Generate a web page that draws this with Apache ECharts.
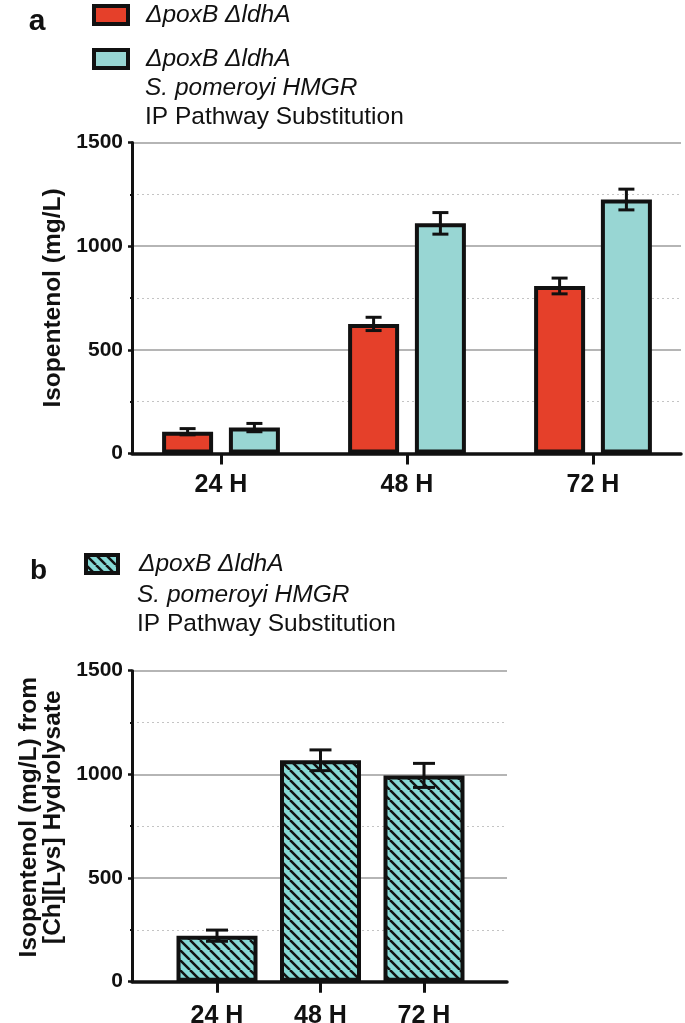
<!DOCTYPE html>
<html>
<head>
<meta charset="utf-8">
<script src="https://cdn.jsdelivr.net/npm/echarts@6/dist/echarts.min.js"></script>
<style>
html,body{margin:0;padding:0;background:#fff;}
#c{width:685px;height:1023px;}
</style>
</head>
<body>
<div id="c"></div>
<script>
// ---------- data ----------
const categories = ['24 H', '48 H', '72 H'];
const yTicks = [0, 500, 1000, 1500];

const redValues = [105, 625, 808];
const redErrors = [15, 32, 38];
const cyanValues = [125, 1110, 1225];
const cyanErrors = [20, 52, 50];
const hatchValues = [222, 1068, 995];
const hatchErrors = [27, 50, 58];

const legendLines = ['ΔpoxB ΔldhA', 'S. pomeroyi HMGR', 'IP Pathway Substitution'];
const yTitleA = 'Isopentenol (mg/L)';
const yTitleB = 'Isopentenol (mg/L) from\n[Ch][Lys] Hydrolysate';
const panelLabels = ['a', 'b'];

// ---------- styling ----------
const FONT = '"Liberation Sans", Arial, Helvetica, sans-serif';
const INK = '#111';
const RED = '#e5402a';
const CYAN = '#98d6d3';
const HATCH_CYAN = '#86d9d5';

const nameRed = 'ΔpoxB ΔldhA';
const nameCyan = 'ΔpoxB ΔldhA S. pomeroyi HMGR IP Pathway Substitution (a)';
const nameHatch = 'ΔpoxB ΔldhA S. pomeroyi HMGR IP Pathway Substitution (b)';

const barWA = 51, gapFracA = 0.31, capA = 16;
const barWB = 81, capB = 22;

function makeHatch() {
  const s = 10;
  const c = document.createElement('canvas');
  c.width = s; c.height = s;
  const g = c.getContext('2d');
  g.fillStyle = HATCH_CYAN;
  g.fillRect(0, 0, s, s);
  g.strokeStyle = INK;
  g.lineWidth = 2.5;
  for (const o of [-s, 0, s]) {
    g.beginPath(); g.moveTo(o, 0); g.lineTo(o + s, s); g.stroke();
  }
  return c;
}

function errorRenderer(barW, gapPx, capW, nSeries) {
  return function (params, api) {
    const idx = api.value(0), v = api.value(1), e = api.value(2), s = api.value(3);
    const base = api.coord([idx, v]);
    const off = nSeries === 2 ? (s === 0 ? -1 : 1) * (barW + gapPx) / 2 : 0;
    const x = base[0] + off;
    const yHi = api.coord([idx, v + e])[1];
    const yLo = api.coord([idx, v - e])[1];
    const st = { stroke: INK, lineWidth: 3 };
    return {
      type: 'group',
      children: [
        { type: 'line', shape: { x1: x, y1: yHi, x2: x, y2: yLo }, style: st },
        { type: 'line', shape: { x1: x - capW / 2, y1: yHi, x2: x + capW / 2, y2: yHi }, style: st },
        { type: 'line', shape: { x1: x - capW / 2, y1: yLo, x2: x + capW / 2, y2: yLo }, style: st }
      ]
    };
  };
}

const yMin = yTicks[0], yMax = yTicks[yTicks.length - 1], yInt = yTicks[1] - yTicks[0];

function frameX(gi) {
  return {
    gridIndex: gi, type: 'value', min: 0, max: 1,
    axisLine: { show: true, lineStyle: { color: INK, width: 3.5 } },
    axisTick: { show: false }, axisLabel: { show: false }, splitLine: { show: false }
  };
}
function barX(gi, margin) {
  return {
    gridIndex: gi, type: 'category', data: categories,
    axisLine: { show: false },
    axisTick: { show: true, alignWithLabel: true, length: 11, lineStyle: { color: INK, width: 3 } },
    axisLabel: { margin: margin, color: INK, fontFamily: FONT, fontWeight: 'bold', fontSize: 25 }
  };
}
function frameY(gi, name, nameGap, namePad) {
  return {
    gridIndex: gi, type: 'value', min: yMin, max: yMax, interval: yInt,
    axisLine: { show: true, lineStyle: { color: INK, width: 3 } },
    axisTick: { show: true, length: 4, lineStyle: { color: INK, width: 2.5 } },
    minorTick: { show: true, splitNumber: 2, length: 2, lineStyle: { color: INK, width: 2 } },
    axisLabel: {
      margin: 9, color: INK, fontFamily: FONT, fontWeight: 'bold', fontSize: 21,
      formatter: function (v) { return String(v); }
    },
    splitLine: { show: true, lineStyle: { color: '#9c9c9c', width: 1.5 } },
    minorSplitLine: { show: true, lineStyle: { color: '#c4c4c4', width: 1, type: [2, 3] } },
    name: name, nameLocation: 'middle', nameGap: nameGap, nameRotate: 90,
    nameTextStyle: { color: INK, fontFamily: FONT, fontWeight: 'bold', fontSize: 24.5, lineHeight: 24, padding: namePad }
  };
}
function hiddenY(gi) {
  return { gridIndex: gi, type: 'value', min: yMin, max: yMax, show: false };
}

function legendOf(name, left, top, iw, ih, textPad) {
  return {
    data: [name], left: left, top: top, padding: 0, orient: 'vertical',
    itemWidth: iw, itemHeight: ih, selectedMode: false, icon: 'rect',
    itemStyle: { borderColor: INK, borderWidth: 4 },
    formatter: function () { return legendLines[0]; },
    textStyle: { color: INK, fontFamily: FONT, fontStyle: 'italic', fontSize: 24.5, lineHeight: 26, padding: [0, 0, 0, textPad] }
  };
}

function gText(x, y, text, opts) {
  return {
    type: 'text', x: x, y: y, silent: true,
    style: Object.assign({
      text: text, fill: INK, fontFamily: FONT, fontSize: 24.5,
      align: 'left', verticalAlign: 'middle'
    }, opts || {})
  };
}

const chart = echarts.init(document.getElementById('c'), null, { renderer: 'canvas' });

const option = {
  backgroundColor: '#fff',
  animation: false,
  grid: [
    { left: 132, top: 142.5, width: 549, height: 311, outerBoundsMode: 'none', containLabel: false },
    { left: 128, top: 142.5, width: 558, height: 311, outerBoundsMode: 'none', containLabel: false },
    { left: 132, top: 670.7, width: 375, height: 311, outerBoundsMode: 'none', containLabel: false },
    { left: 165.25, top: 670.7, width: 310.5, height: 311, outerBoundsMode: 'none', containLabel: false }
  ],
  xAxis: [frameX(0), barX(1, 19), frameX(2), barX(3, 22)],
  yAxis: [
    frameY(0, yTitleA, 66, 0),
    hiddenY(1),
    frameY(2, yTitleB, 54, [0, 0, 0, 18]),
    hiddenY(3)
  ],
  legend: [
    legendOf(nameRed, 92, 2, 34, 18, 13),
    legendOf(nameCyan, 92, 46, 34, 18, 13),
    legendOf(nameHatch, 84, 551, 32, 18, 16)
  ],
  graphic: [
    gText(37, 22, panelLabels[0], { fontWeight: 'bold', fontSize: 30, align: 'center' }),
    gText(38.5, 571, panelLabels[1], { fontWeight: 'bold', fontSize: 28, align: 'center' }),
    gText(145, 88, legendLines[1], { fontStyle: 'italic' }),
    gText(145, 117.5, legendLines[2]),
    gText(137, 595, legendLines[1], { fontStyle: 'italic' }),
    gText(137, 624, legendLines[2])
  ],
  series: [
    {
      name: nameRed, type: 'bar', xAxisIndex: 1, yAxisIndex: 1, data: redValues,
      barWidth: barWA, barGap: (gapFracA * 100) + '%', z: 3,
      itemStyle: { color: RED, borderColor: INK, borderWidth: 4 }
    },
    {
      name: nameCyan, type: 'bar', xAxisIndex: 1, yAxisIndex: 1, data: cyanValues,
      barWidth: barWA, barGap: (gapFracA * 100) + '%', z: 3,
      itemStyle: { color: CYAN, borderColor: INK, borderWidth: 4 }
    },
    {
      type: 'custom', xAxisIndex: 1, yAxisIndex: 1, z: 5, clip: false,
      renderItem: errorRenderer(barWA, barWA * gapFracA, capA, 2),
      encode: { x: 0, y: 1 },
      data: categories.map((c, i) => [i, redValues[i], redErrors[i], 0])
        .concat(categories.map((c, i) => [i, cyanValues[i], cyanErrors[i], 1]))
    },
    {
      name: nameHatch, type: 'bar', xAxisIndex: 3, yAxisIndex: 3, data: hatchValues,
      barWidth: barWB, z: 3,
      itemStyle: { color: { image: makeHatch(), repeat: 'repeat' }, borderColor: INK, borderWidth: 4 }
    },
    {
      type: 'custom', xAxisIndex: 3, yAxisIndex: 3, z: 5, clip: false,
      renderItem: errorRenderer(barWB, 0, capB, 1),
      encode: { x: 0, y: 1 },
      data: categories.map((c, i) => [i, hatchValues[i], hatchErrors[i], 0])
    }
  ]
};
chart.setOption(option);
</script>
</body>
</html>
